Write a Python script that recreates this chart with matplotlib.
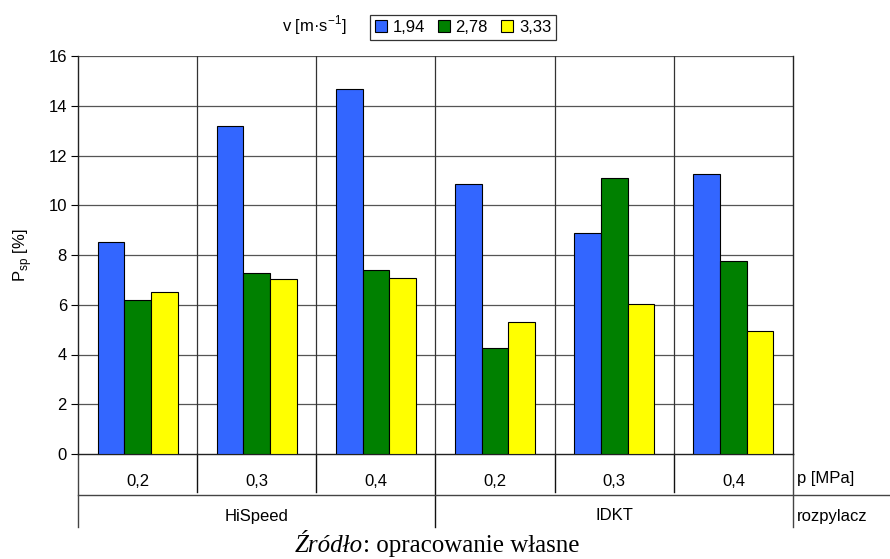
import matplotlib
matplotlib.use("Agg")
import matplotlib.pyplot as plt
import matplotlib.transforms as mtransforms
from matplotlib.lines import Line2D
import numpy as np

plt.rcParams['font.family'] = ['Liberation Sans', 'DejaVu Sans']

# ---- data ----
pressure_labels = ["0,2", "0,3", "0,4", "0,2", "0,3", "0,4"]
sprayers = ["HiSpeed", "IDKT"]
speed_labels = ["1,94", "2,78", "3,33"]
v_194 = [8.51, 13.20, 14.66, 10.84, 8.88, 11.25]
v_278 = [6.19, 7.28, 7.38, 4.27, 11.08, 7.75]
v_333 = [6.50, 7.05, 7.09, 5.32, 6.05, 4.96]
series = [v_194, v_278, v_333]
colors = ["#3366FF", "#008000", "#FFFF00"]

FS = 12
W, H = 890, 559
fig = plt.figure(figsize=(W / 100, H / 100), dpi=100)
ax_l, ax_r, ax_t, ax_b = 78, 793, 56, 454
ax = fig.add_axes([ax_l / W, 1 - ax_b / H, (ax_r - ax_l) / W, (ax_b - ax_t) / H])

n = len(pressure_labels)
x = np.arange(n)
bw = 0.224
for i, (vals, c, lab) in enumerate(zip(series, colors, speed_labels)):
    ax.bar(x + (i - 1) * bw, vals, width=bw, color=c, edgecolor="black",
           linewidth=0.8, label=lab, zorder=3)

ax.set_xlim(-0.5, n - 0.5)
ax.set_ylim(0, 16)
ax.set_yticks(np.arange(0, 17, 2))
ax.set_xticks([])
ax.tick_params(axis='y', direction='out', length=5, width=0.8, labelsize=FS, pad=3)
for yv in np.arange(2, 17, 2):
    ax.axhline(yv, color="#555555", lw=0.9, zorder=1)
for xv in np.arange(0.5, n - 0.5, 1):
    ax.axvline(xv, color="#333333", lw=0.9, zorder=1)
for s in ['left', 'bottom', 'right']:
    ax.spines[s].set_linewidth(1.0)
    ax.spines[s].set_color('#222222')
ax.spines['top'].set_visible(False)

ax.set_ylabel(r"P$_{\mathregular{sp}}$ [%]", fontsize=FS, labelpad=10)

# ---- category table below the axis ----
trans = mtransforms.blended_transform_factory(ax.transData, ax.transAxes)
ph = ax_b - ax_t
y_row1 = -(495 - ax_b) / ph
y_row2 = -(527 - ax_b) / ph
y_sep = -(492 - ax_b) / ph
y_lab1 = -(482 - ax_b) / ph
y_lab2 = -(516 - ax_b) / ph

def vline(xd, y0, y1, color="#111111"):
    ax.add_line(Line2D([xd, xd], [y0, y1], transform=trans, color=color,
                       lw=1.0, clip_on=False))

vline(-0.5, 0, y_row2, "#444444")
for xv in np.arange(0.5, n - 0.5, 1):
    if abs(xv - 2.5) < 1e-9:
        vline(xv, 0, y_row2)
    else:
        vline(xv, 0, y_sep)
vline(n - 0.5, 0, y_row2, "#444444")
ax.add_line(Line2D([-0.5, n - 0.5 + (W - ax_r) / ((ax_r - ax_l) / n)], [y_row1, y_row1],
                   transform=trans, color="#444444", lw=1.0, clip_on=False))

for xi, lab in zip(x, pressure_labels):
    ax.text(xi, y_lab1, lab, transform=trans, ha="center", va="center", fontsize=FS)
for j, sp in enumerate(sprayers):
    ax.text(1 + 3 * j, y_lab2, sp, transform=trans, ha="center", va="center", fontsize=FS)
ax.text(n - 0.5 + 0.03, -(478 - ax_b) / ph, "p [MPa]", transform=trans,
        ha="left", va="center", fontsize=FS)
ax.text(n - 0.5 + 0.03, y_lab2, "rozpylacz", transform=trans,
        ha="left", va="center", fontsize=FS)

# ---- legend ----
leg = fig.legend(loc="center", bbox_to_anchor=(463 / W, 1 - 27 / H), ncol=3,
                 fontsize=FS, frameon=True, fancybox=False, edgecolor="black",
                 handlelength=0.7, handleheight=0.7, handletextpad=0.35,
                 columnspacing=0.8, borderpad=0.3, borderaxespad=0)
leg.get_frame().set_linewidth(0.9)
fig.text(282 / W, 1 - 25 / H, r"v [m·s$^{\mathregular{-1}}$]", ha="left", va="center",
         fontsize=FS)

# ---- source caption ----
cap1 = fig.text(295 / W, 1 - 552 / H, "Źródło", fontsize=18, family="Liberation Serif",
                style="italic", ha="left", va="baseline")
fig.canvas.draw()
bb = cap1.get_window_extent()
fig.text(bb.x1 / W, 1 - 552 / H, ": opracowanie własne", fontsize=18,
         family="Liberation Serif", ha="left", va="baseline")

fig.savefig("out.png", dpi=100)
